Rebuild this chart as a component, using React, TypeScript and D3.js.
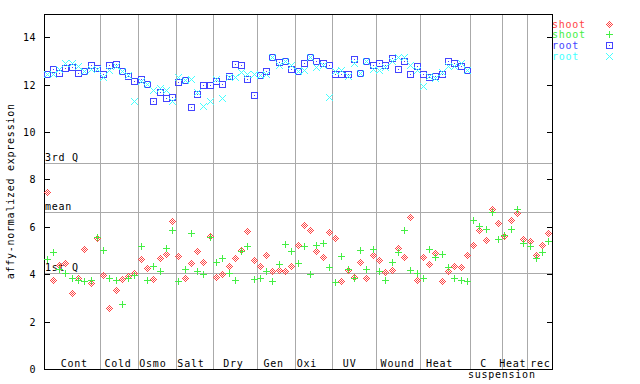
import React from "react";
import * as d3 from "d3";

const groupLabels = ["Cont", "Cold", "Osmo", "Salt", "Dry", "Gen", "Oxi", "UV", "Wound", "Heat", "C", "Heat", "rec"];
const groupSizes = [9, 6, 6, 6, 7, 6, 6, 7, 7, 8, 5, 4, 4];
const subLabel = "suspension";

const yTicks = [0, 2, 4, 6, 8, 10, 12, 14];
const refLines = [
  { label: "3rd Q", value: 8.68 },
  { label: "mean", value: 6.61 },
  { label: "1st Q", value: 4.06 },
];

const shootRed = [
  7.46, 3.74, 4.35, 4.46, 3.19, 3.8, 5.05, 3.62, 5.52,
  3.95, 2.56, 3.32, 3.79, 3.91, 4.04,
  4.63, 4.25, 3.79, 4.67, 4.84, 6.23,
  4.76, 3.83, 4.46, 4.97, 4.5, 5.6,
  3.87, 4.0, 4.34, 4.67, 5.01, 5.81, 4.59,
  4.34, 4.8, 4.12, 4.17, 4.12, 4.34,
  5.22, 6.07, 5.85, 4.97, 4.72, 5.77,
  5.52, 3.7, 4.17, 3.87, 4.5, 3.83, 4.8,
  4.59, 4.08, 4.17, 5.09, 4.72, 6.4, 3.74,
  4.72, 4.42, 4.88, 3.7, 4.12, 4.34, 4.29, 4.8,
  5.22, 5.85, 5.43, 6.74, 6.15,
  5.6, 6.28, 6.57, 5.47,
  5.39, 4.8, 5.22, 5.73,
];

const shootGreen = [
  4.64, 4.93, 4.2, 4.04, 3.8, 3.74, 3.7, 3.74, 5.56,
  5.02, 3.8, 3.74, 2.73, 3.8, 3.95,
  5.18, 3.74, 4.34, 4.12, 5.09, 5.85,
  3.7, 4.21, 5.74, 4.12, 4.0, 5.56,
  4.5, 4.67, 4.04, 3.74, 4.97, 5.18, 3.79,
  3.83, 4.12, 3.7, 4.42, 5.26, 4.97,
  4.46, 5.18, 4.0, 5.22, 5.31, 4.29,
  3.66, 4.76, 4.21, 3.83, 5.01, 4.21, 5.05,
  4.12, 3.74, 4.5, 4.93, 5.85, 4.17, 4.04,
  3.83, 5.05, 4.72, 4.84, 4.29, 3.83, 3.74, 3.7,
  6.28, 6.02, 5.9, 6.61, 5.47,
  5.64, 5.9, 6.74, 5.31,
  5.18, 4.67, 4.93, 5.39,
];

const rootBlue = [
  12.44, 12.65, 12.48, 12.69, 12.74, 12.49, 12.57, 12.82, 12.68,
  12.45, 12.82, 12.86, 12.55, 12.33, 12.14,
  12.23, 12.0, 11.3, 11.69, 11.43, 11.47,
  12.1, 12.16, 11.05, 11.57, 11.98, 11.98,
  12.14, 12.02, 12.34, 12.86, 12.82, 12.23, 11.55,
  12.4, 12.57, 13.16, 12.95, 12.97, 12.66,
  12.55, 12.9, 13.16, 12.99, 12.9, 12.83,
  12.45, 12.45, 12.45, 13.07, 12.48, 12.97, 12.82,
  12.9, 12.82, 13.11, 12.65, 12.99, 12.44, 12.78,
  12.44, 12.31, 12.34, 12.45, 12.97, 12.9, 12.78, 12.61,
];

const rootCyan = [
  12.44, 12.44, 12.62, 12.9, 12.9, 12.78, 12.57, 12.65, 12.65,
  12.3, 12.61, 12.78, 12.55, 12.4, 11.27,
  12.13, 12.0, 11.76, 11.82, 11.76, 11.3,
  12.31, 12.19, 12.23, 11.65, 11.09, 11.31,
  12.23, 11.43, 12.31, 12.31, 12.51, 12.45, 12.44,
  12.4, 12.44, 13.16, 12.82, 12.97, 12.82,
  12.55, 12.61, 13.16, 12.74, 12.82, 11.47,
  12.57, 12.61, 12.36, 12.9, 12.48, 12.97, 12.65,
  12.61, 12.74, 12.99, 13.16, 13.14, 12.82, 12.61,
  11.91, 12.36, 12.27, 12.52, 12.78, 12.78, 12.9, 12.61,
];

const legendNames = ["shoot", "shoot", "root", "root"];

// layout / style (not data)
const W = 640, H = 384;
const L = 44, R = 552, T = 13.6, B = 369;
const FONT = "'DejaVu Sans Mono', 'Liberation Mono', monospace";
const COLORS = ["#ff4444", "#44ee44", "#4444ff", "#44ffff"];
const GRID = "#aaaaaa";
const labelNudge = [2, -1.3, -4, -3.6, -2, -2.5, -6.8, -4.8, -0.8, -5.8, -2.6, -1.5, 0.9];

type Shape = "diamond" | "plus" | "square" | "cross";
const SHAPES: Shape[] = ["diamond", "plus", "square", "cross"];

function markerPixels(shape: Shape): [number, number][] {
  const px: [number, number][] = [];
  for (let dx = -3; dx <= 3; dx++) {
    for (let dy = -3; dy <= 3; dy++) {
      const a = Math.abs(dx), b = Math.abs(dy);
      let on = false;
      if (shape === "diamond") on = a + b === 3 || a + b === 1;
      else if (shape === "plus") on = dx === 0 || dy === 0;
      else if (shape === "square") on = a === 3 || b === 3 || (a === 0 && b === 0);
      else on = a === b;
      if (on) px.push([dx, dy]);
    }
  }
  return px;
}

function markerPath(shape: Shape, x: number, y: number): string {
  const cx = Math.floor(x), cy = Math.floor(y);
  return markerPixels(shape)
    .map(([dx, dy]) => `M${cx + dx},${cy + dy}h1v1h-1z`)
    .join("");
}

export default function App() {
  const total = d3.sum(groupSizes);
  const x = d3.scaleLinear().domain([0, total]).range([L, R]);
  const y = d3.scaleLinear().domain([0, 15]).range([B, T]);
  const bounds = d3.cumsum(groupSizes);
  const starts = [0, ...Array.from(bounds).slice(0, -1)];

  const series = [shootRed, shootGreen, rootBlue, rootCyan];

  return (
    <svg width={W} height={H} style={{ position: "absolute", left: 0, top: 0, background: "#fff" }}>
      <rect x={0} y={0} width={W} height={H} fill="#fff" />
      {/* vertical group separators */}
      {Array.from(bounds).slice(0, -1).map((b, i) => (
        <line key={"v" + i} x1={Math.round(x(b)) + 0.5} x2={Math.round(x(b)) + 0.5} y1={T} y2={B}
          stroke={GRID} strokeWidth={1} shapeRendering="crispEdges" />
      ))}
      {/* reference lines */}
      {refLines.map((r) => {
        const yy = Math.round(y(r.value)) + 0.5;
        return (
          <g key={r.label}>
            <line x1={L} x2={R} y1={yy} y2={yy} stroke={GRID} strokeWidth={1} shapeRendering="crispEdges" />
            <text x={L + 1} y={yy - 2.5} fontFamily={FONT} fontSize={10} letterSpacing={0.75} fill="#000">{r.label}</text>
          </g>
        );
      })}
      {/* frame */}
      <rect x={L + 0.5} y={Math.round(T) + 0.5} width={R - L} height={B - Math.round(T)} fill="none" stroke="#000" strokeWidth={1} shapeRendering="crispEdges" />
      {/* y ticks */}
      {yTicks.map((t) => {
        const yy = Math.round(y(t)) + 0.5;
        return (
          <g key={"t" + t}>
            <line x1={L} x2={L + 6} y1={yy} y2={yy} stroke="#000" shapeRendering="crispEdges" />
            <line x1={R - 5} x2={R} y1={yy} y2={yy} stroke="#000" shapeRendering="crispEdges" />
            <text x={36} y={yy} dy="0.35em" textAnchor="end" fontFamily={FONT} fontSize={10} letterSpacing={0.5} fill="#000">{t}</text>
          </g>
        );
      })}
      {/* y title */}
      <text transform={`translate(14,${(T + B) / 2}) rotate(-90)`} textAnchor="middle" fontFamily={FONT} fontSize={10} letterSpacing={0.75} fill="#000">
        affy-normalized expression
      </text>
      {/* group labels */}
      {groupLabels.map((g, i) => {
        const cx = (x(starts[i]) + x(bounds[i])) / 2 + labelNudge[i];
        return (
          <text key={"g" + i} x={cx} y={367} textAnchor="middle" fontFamily={FONT} fontSize={10} letterSpacing={0.75} fill="#000">{g}</text>
        );
      })}
      <text x={x(bounds[10])} y={378} textAnchor="middle" fontFamily={FONT} fontSize={10} letterSpacing={0.75} fill="#000">{subLabel}</text>
      {/* points */}
      {series.map((s, si) => (
        <path key={"s" + si} fill={COLORS[si]}
          d={s.map((v, i) => markerPath(SHAPES[si], x(i + 0.5), y(v))).join("")} />
      ))}
      {/* legend */}
      {legendNames.map((n, i) => (
        <g key={"l" + i}>
          <text x={552} y={27.5 + i * 10.7} fontFamily={FONT} fontSize={10} letterSpacing={0.75} fill={COLORS[i]}>{n}</text>
          <path fill={COLORS[i]} d={markerPath(SHAPES[i], 609, 24 + i * 10.7)} />
        </g>
      ))}
    </svg>
  );
}
